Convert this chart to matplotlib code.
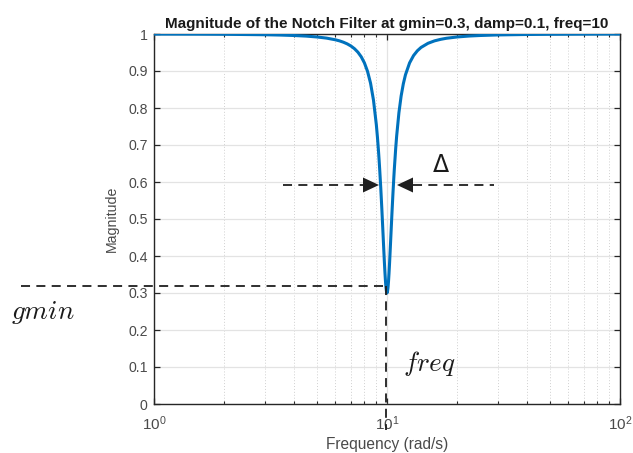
import matplotlib
matplotlib.use("Agg")
import matplotlib.pyplot as plt
from matplotlib.lines import Line2D
from matplotlib.patches import Polygon
from matplotlib.ticker import FixedLocator, NullFormatter

plt.rcParams['font.family'] = ['Liberation Sans', 'DejaVu Sans']
plt.rcParams['mathtext.fontset'] = 'custom'
plt.rcParams['mathtext.rm'] = 'Liberation Sans'
plt.rcParams['mathtext.it'] = 'Liberation Sans:italic'

# data
freq = [1, 1.5, 2, 3, 3.5, 4, 4.5, 5, 5.5, 6, 6.25, 6.5, 6.75, 7, 7.25, 7.5, 7.75,
        8, 8.25, 8.5, 8.75, 9, 9.1, 9.2, 9.25, 9.3, 9.4, 9.5, 9.6, 9.7, 9.75, 9.8,
        9.85, 9.9, 9.95, 10, 10.05, 10.1, 10.15, 10.2, 10.25, 10.3, 10.4, 10.5,
        10.6, 10.7, 10.75, 10.9, 11, 11.25, 11.5, 11.75, 12, 12.5, 13, 13.5, 14,
        15, 16, 17, 18, 20, 22.5, 25, 30, 40, 50, 70, 100]
mag = [0.9998, 0.9996, 0.9992, 0.9980, 0.9971, 0.9959, 0.9943, 0.9920, 0.9889,
       0.9844, 0.9815, 0.9778, 0.9733, 0.9676, 0.9603, 0.9509, 0.9385, 0.9219,
       0.8990, 0.8670, 0.8211, 0.7547, 0.7205, 0.6810, 0.6591, 0.6358, 0.5850,
       0.5289, 0.4691, 0.4090, 0.3806, 0.3545, 0.3322, 0.3148, 0.3038, 0.3000,
       0.3037, 0.3145, 0.3313, 0.3526, 0.3772, 0.4039, 0.4598, 0.5149, 0.5664,
       0.6132, 0.6347, 0.6916, 0.7238, 0.7873, 0.8326, 0.8654, 0.8896, 0.9219,
       0.9417, 0.9547, 0.9637, 0.9749, 0.9815, 0.9856, 0.9885, 0.9920, 0.9945,
       0.9959, 0.9975, 0.9987, 0.9992, 0.9996, 0.9998]
yticks = [0, 0.1, 0.2, 0.3, 0.4, 0.5, 0.6, 0.7, 0.8, 0.9, 1]
ytick_labels = ['0', '0.1', '0.2', '0.3', '0.4', '0.5', '0.6', '0.7', '0.8', '0.9', '1']
xticks = [1, 10, 100]
xtick_labels = [r'$10^{0}$', r'$10^{1}$', r'$10^{2}$']
title = 'Magnitude of the Notch Filter at gmin=0.3, damp=0.1, freq=10'

W, H = 633, 453
fig = plt.figure(figsize=(W / 100, H / 100), dpi=100)
ax = fig.add_axes([154 / W, 1 - 404 / H, (620 - 154) / W, (404 - 34) / H])

axc = '#262626'
ax.plot(freq, mag, color='#0072BD', lw=2.2, zorder=3, solid_joinstyle='round')
ax.set_xscale('log')
ax.set_xlim(1, 100)
ax.set_ylim(0, 1)
ax.set_yticks(yticks)
ax.set_yticklabels(ytick_labels)
ax.set_xticks(xticks)
ax.set_xticklabels(xtick_labels)
minors = [m * d for d in (1, 10) for m in range(2, 10)]
ax.xaxis.set_minor_locator(FixedLocator(minors))
ax.xaxis.set_minor_formatter(NullFormatter())

ax.grid(True, which='major', color='#e3e3e3', lw=0.9, ls='-', zorder=0)
ax.grid(True, which='minor', axis='x', color='#d0d0d0', lw=0.7, ls=(0, (1, 2)), zorder=0)
ax.set_axisbelow(True)

for s in ax.spines.values():
    s.set_color(axc)
    s.set_linewidth(1.0)
ax.tick_params(which='both', direction='in', top=True, right=True, colors=axc,
               labelcolor='#4a4a4a')
ax.tick_params(which='major', length=4, width=0.9)
ax.tick_params(which='minor', length=2.5, width=0.8)
ax.tick_params(axis='y', labelsize=10.2, pad=4.5)
ax.tick_params(axis='x', labelsize=11, pad=7.5)

ax.set_title(title, fontsize=11, fontweight='bold', color='#1a1a1a', pad=4)
ax.set_xlabel('Frequency (rad/s)', fontsize=11.2, color='#4a4a4a', labelpad=3)
ax.set_ylabel('Magnitude', fontsize=10.2, color='#4a4a4a', labelpad=7)


def P(x, y):
    return (x / W, 1 - y / H)


def dline(x0, y0, x1, y1):
    (a, b), (c, d) = P(x0, y0), P(x1, y1)
    fig.add_artist(Line2D([a, c], [b, d], transform=fig.transFigure, color='#1f1f1f',
                          lw=1.3, ls=(0, (5, 3.5)), zorder=5))


def tri(pts):
    fig.add_artist(Polygon([P(*p) for p in pts], closed=True, transform=fig.transFigure,
                           facecolor='#1f1f1f', edgecolor='none', zorder=5))


# gmin guide
dline(21, 286, 387, 286)
dline(386, 286, 386, 430)
# width arrows
dline(283, 185, 364, 185)
tri([(363, 177.5), (363, 192.5), (379, 185)])
dline(413, 185, 494, 185)
tri([(413, 177.5), (413, 192.5), (397, 185)])

fig.text(*P(441, 166), r'$\Delta$', fontsize=17, ha='center', va='center',
         color='#1a1a1a', math_fontfamily='dejavusans')
fig.text(*P(43, 313), r'$gmin$', fontsize=19.5, ha='center', va='center',
         color='#1a1a1a', math_fontfamily='cm')
fig.text(*P(429, 363), r'$freq$', fontsize=19.5, ha='center', va='center',
         color='#1a1a1a', math_fontfamily='cm')

fig.savefig('out.png', dpi=100)
